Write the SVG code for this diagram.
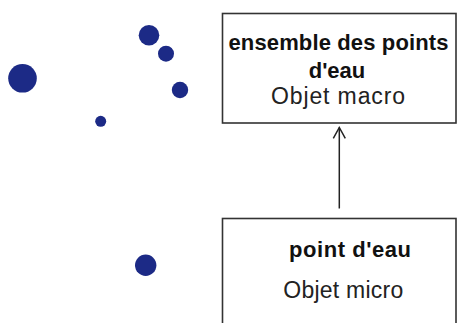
<svg xmlns="http://www.w3.org/2000/svg" width="458" height="323" viewBox="0 0 458 323">
<style>
.dot{fill:#1c2a86}
.box{fill:#fff;stroke:#333;stroke-width:1.6}
.b{font-family:"Liberation Sans",Arial,sans-serif;font-weight:bold;font-size:22px;fill:#111;text-anchor:middle}
.r{font-family:"Liberation Sans",Arial,sans-serif;font-size:23px;fill:#222;text-anchor:middle}
.conn{stroke:#222;stroke-width:1.5;fill:none}
</style>
<g id="dots">
<circle class="dot" cx="22.5" cy="78.3" r="14.3"/>
<circle class="dot" cx="149" cy="35.3" r="10.3"/>
<circle class="dot" cx="166" cy="53.7" r="8"/>
<circle class="dot" cx="180" cy="90" r="8.2"/>
<circle class="dot" cx="100.7" cy="121.3" r="5.5"/>
<circle class="dot" cx="145.7" cy="265.3" r="10.7"/>
</g>
<g id="macro">
<rect class="box" x="222.5" y="13.5" width="233.5" height="109.5"/>
<text class="b" x="338.5" y="50" textLength="220" lengthAdjust="spacing">ensemble des points</text>
<text class="b" x="337" y="77.5">d'eau</text>
<text class="r" x="338" y="104" textLength="134" lengthAdjust="spacing">Objet macro</text>
</g>
<g id="micro">
<rect class="box" x="222.5" y="218.5" width="233.5" height="110"/>
<text class="b" x="350" y="256.5" textLength="122" lengthAdjust="spacing">point d'eau</text>
<text class="r" x="343.3" y="297.5" textLength="120" lengthAdjust="spacing">Objet micro</text>
</g>
<g id="connectors">
<path class="conn" d="M339.3 208.5 V127.5"/>
<path class="conn" d="M333.3 138.3 L339.3 127.5 L345.3 138.3"/>
</g>
</svg>
